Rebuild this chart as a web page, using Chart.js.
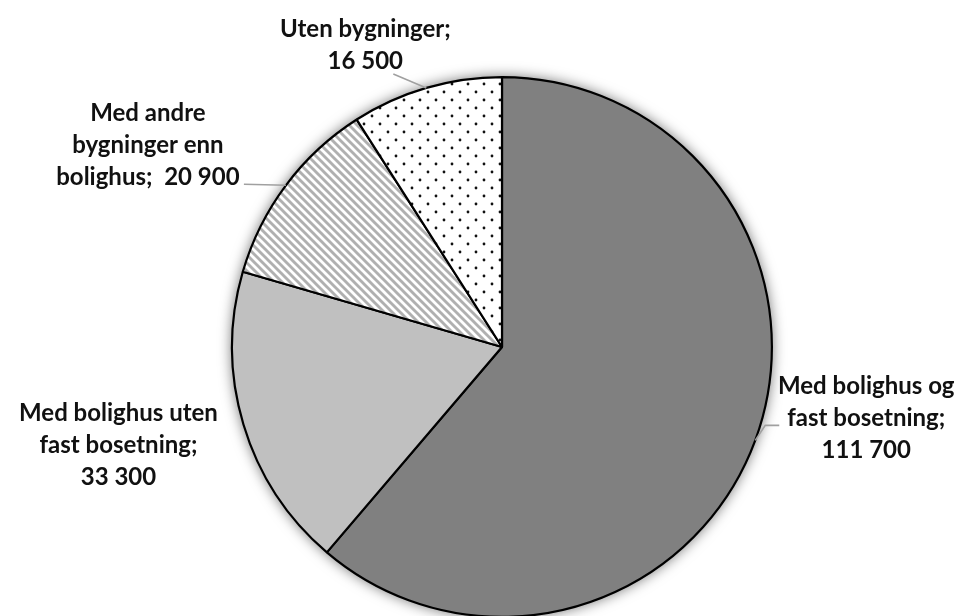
<!DOCTYPE html>
<html>
<head>
<meta charset="utf-8">
<script src="https://cdn.jsdelivr.net/npm/chart.js@4/dist/chart.umd.min.js"></script>
<style>
html, body { margin: 0; padding: 0; background: #fff; overflow: hidden; }
#wrap { width: 960px; height: 616px; overflow: hidden; }
</style>
</head>
<body>
<div id="wrap"><canvas id="chart" width="960" height="618"></canvas></div>
<script>
// data
var categories = [
    ['Med bolighus og', 'fast bosetning;'],
    ['Med bolighus uten', 'fast bosetning;'],
    ['Med andre', 'bygninger enn', 'bolighus;'],
    ['Uten bygninger;']
];
var values = [111700, 33300, 20900, 16500];
var value_labels = ['111 700', '33 300', '20 900', '16 500'];

// label placement relative to the slice's edge point (dx, dy of text block centre, leader style)
var label_offsets = [
    { dx: 111, dy: -22, leader: [[0, 0], [10, -15], [24, -15]] },
    { dx: -125, dy: 21, leader: null },
    { dx: -138, dy: -40, leader: [[0, 0], [-42, -1]] },
    { dx: -61, dy: -43, leader: [[0, 0], [-33, -14]] }
];

function make_hatch() {
    var c = document.createElement('canvas');
    c.width = 8; c.height = 8;
    var x = c.getContext('2d');
    x.fillStyle = '#fff';
    x.fillRect(0, 0, 8, 8);
    x.strokeStyle = '#b0b0b0';
    x.lineWidth = 2.9;
    for (var k = -1; k <= 1; k++) {
        x.beginPath();
        x.moveTo(k * 8 - 1, -1);
        x.lineTo(k * 8 + 9, 9);
        x.stroke();
    }
    return x.createPattern(c, 'repeat');
}

function make_dots() {
    var c = document.createElement('canvas');
    c.width = 16; c.height = 16;
    var x = c.getContext('2d');
    x.fillStyle = '#fff';
    x.fillRect(0, 0, 16, 16);
    x.fillStyle = '#111';
    x.beginPath(); x.arc(4, 4, 1.4, 0, Math.PI * 2); x.fill();
    x.beginPath(); x.arc(12, 12, 1.4, 0, Math.PI * 2); x.fill();
    return x.createPattern(c, 'repeat');
}

var label_font = 'bold 24px Lato';
var line_height = 32;

var shadow_plugin = {
    id: 'pieShadow',
    beforeDatasetsDraw: function (chart) {
        var arc = chart.getDatasetMeta(0).data[0];
        if (!arc) return;
        var ctx = chart.ctx;
        ctx.save();
        ctx.shadowColor = 'rgba(0,0,0,0.6)';
        ctx.shadowBlur = 14;
        ctx.fillStyle = '#fff';
        ctx.beginPath();
        ctx.arc(arc.x, arc.y, arc.outerRadius, 0, Math.PI * 2);
        ctx.fill();
        ctx.restore();
    }
};

var label_plugin = {
    id: 'pieLabels',
    afterDatasetsDraw: function (chart) {
        var ctx = chart.ctx;
        var arcs = chart.getDatasetMeta(0).data;
        ctx.save();
        arcs.forEach(function (arc, i) {
            var mid = (arc.startAngle + arc.endAngle) / 2;
            var ex = arc.x + Math.cos(mid) * arc.outerRadius;
            var ey = arc.y + Math.sin(mid) * arc.outerRadius;
            var off = label_offsets[i];
            if (off.leader) {
                ctx.strokeStyle = '#a0a0a0';
                ctx.lineWidth = 1.6;
                ctx.beginPath();
                off.leader.forEach(function (p, j) {
                    if (j === 0) ctx.moveTo(ex + p[0], ey + p[1]);
                    else ctx.lineTo(ex + p[0], ey + p[1]);
                });
                ctx.stroke();
            }
            var lines = categories[i].slice();
            if (i === 2) {
                lines[lines.length - 1] += '  ' + value_labels[i];
            } else {
                lines.push(value_labels[i]);
            }
            var cx = ex + off.dx;
            var cy = ey + off.dy;
            var top = cy - (lines.length - 1) * line_height / 2;
            ctx.fillStyle = '#111';
            ctx.font = label_font;
            ctx.textAlign = 'center';
            ctx.textBaseline = 'middle';
            lines.forEach(function (t, j) {
                ctx.fillText(t, cx, top + j * line_height);
            });
        });
        ctx.restore();
    }
};

new Chart(document.getElementById('chart'), {
    type: 'pie',
    data: {
        labels: categories.map(function (c) { return c.join(' '); }),
        datasets: [{
            data: values,
            backgroundColor: ['#808080', '#c0c0c0', make_hatch(), make_dots()],
            borderColor: '#000',
            borderWidth: 2.2
        }]
    },
    options: {
        responsive: false,
        animation: false,
        layout: { padding: { top: 76, bottom: 0, left: 44, right: 0 } },
        plugins: {
            legend: { display: false },
            tooltip: { enabled: false }
        }
    },
    plugins: [shadow_plugin, label_plugin]
});
</script>
</body>
</html>
